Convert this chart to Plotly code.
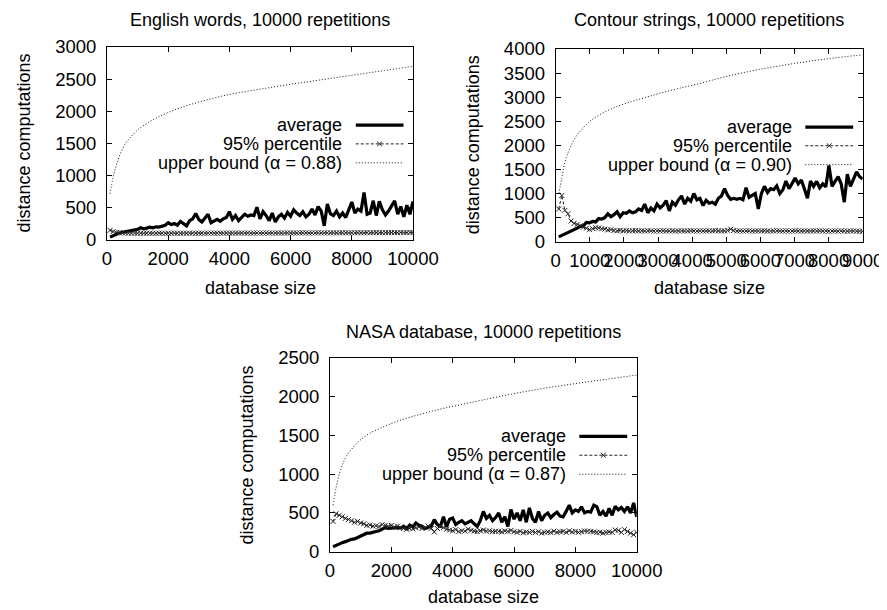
import plotly.graph_objects as go

FONT = "Liberation Sans, Arial, Helvetica, sans-serif"
FS = 18
TFS = 18.5

# ---------------- data ----------------
titles = ["English words, 10000 repetitions",
          "Contour strings, 10000 repetitions",
          "NASA database, 10000 repetitions"]
legend_names = ["average", "95% percentile"]
alpha_labels = ["upper bound (\u03b1 = 0.88)",
                "upper bound (\u03b1 = 0.90)",
                "upper bound (\u03b1 = 0.87)"]

eng_x = list(range(100, 10001, 100))
eng_avg = [45, 70, 95, 110, 120, 130, 145, 150, 160, 165,
           190, 175, 185, 200, 190, 205, 200, 215, 230, 270,
           240, 255, 230, 290, 260, 220, 300, 330, 410, 320,
           280, 340, 400, 270, 300, 320, 290, 330, 350, 440,
           320, 380, 300, 350, 400, 370, 390, 380, 510, 330,
           440, 380, 300, 420, 280, 360, 400, 340, 430, 370,
           470, 420, 380, 440, 360, 400, 480, 390, 520, 450,
           220, 560, 410, 380, 450, 360, 420, 350, 480, 590,
           420, 480, 450, 740, 400, 420, 610, 380, 600, 470,
           390, 450, 530, 610, 400, 520, 360, 540, 400, 600]
eng_pct = [150, 130, 118, 112, 110, 108, 106, 105, 106, 104,
           105, 104, 106, 105, 104, 105, 106, 105, 104, 106,
           105, 107, 105, 104, 106, 105, 107, 106, 105, 106,
           107, 105, 106, 108, 106, 105, 107, 106, 108, 107,
           106, 108, 107, 109, 107, 108, 106, 108, 109, 107,
           108, 110, 108, 109, 107, 110, 109, 108, 110, 109,
           111, 109, 110, 112, 110, 109, 111, 110, 112, 111,
           110, 112, 111, 113, 111, 112, 114, 112, 111, 113,
           112, 114, 113, 112, 115, 113, 114, 116, 114, 113,
           115, 114, 116, 115, 114, 117, 115, 116, 118, 117]
eng_ub_x = [100, 200, 370, 590, 810, 1030, 1350, 1680, 2120, 2670,
            3210, 3760, 4300, 5070, 6000, 7000, 8000, 9000, 10000]
eng_ub = [716, 974, 1258, 1490, 1618, 1722, 1825, 1912, 2005, 2098,
          2170, 2237, 2289, 2350, 2420, 2490, 2560, 2630, 2700]

con_x = list(range(90, 9001, 90))
con_avg = [100, 130, 160, 180, 210, 250, 280, 320, 330, 400,
           390, 420, 410, 480, 470, 500, 580, 520, 560, 620,
           520, 600, 590, 640, 600, 620, 680, 650, 780, 600,
           700, 640, 780, 700, 760, 850, 640, 820, 760, 870,
           950, 780, 900, 840, 1000, 870, 900, 750, 860, 800,
           820, 780, 900, 950, 1100, 960, 880, 900, 880, 900,
           870, 1120, 920, 960, 1000, 680, 1000, 1150, 1020, 1100,
           1080, 1160, 1000, 1080, 1260, 1100, 1200, 1320, 1200, 1280,
           1100, 900, 1260, 1150, 1250, 1120, 1200, 1140, 1580, 1150,
           1250, 1350, 1200, 820, 1400, 1150, 1300, 1450, 1350, 1300]
con_pct = [680, 960, 650, 580, 430, 380, 360, 330, 300, 280,
           250, 270, 290, 285, 270, 260, 245, 250, 232, 228,
           235, 225, 230, 222, 228, 230, 224, 226, 222, 228,
           225, 220, 226, 223, 228, 222, 225, 227, 221, 224,
           226, 222, 225, 228, 223, 221, 226, 224, 222, 227,
           224, 230, 226, 222, 225, 235, 260, 232, 222, 225,
           220, 224, 226, 222, 221, 225, 223, 226, 222, 220,
           224, 226, 221, 223, 225, 220, 222, 226, 223, 221,
           224, 222, 220, 225, 222, 226, 221, 223, 218, 222,
           224, 220, 226, 222, 218, 224, 222, 220, 218, 215]
con_ub_x = [90, 180, 270, 400, 600, 800, 1000, 1300, 1700, 2100,
            2600, 3100, 3600, 4200, 5000, 6000, 7000, 8000, 9000]
con_ub = [1000, 1330, 1650, 1910, 2190, 2360, 2500, 2640, 2780, 2880,
          2990, 3090, 3180, 3280, 3430, 3580, 3700, 3800, 3880]

nasa_x = list(range(100, 10001, 100))
nasa_avg = [65, 85, 105, 117, 130, 150, 160, 165, 185, 200,
            215, 239, 240, 255, 260, 270, 290, 310, 300, 305,
            300, 310, 305, 330, 300, 345, 320, 370, 340, 330,
            300, 310, 330, 413, 350, 330, 450, 320, 420, 435,
            350, 380, 400, 360, 380, 400, 360, 326, 400, 520,
            430, 470, 400, 440, 500, 380, 450, 326, 544, 420,
            500, 400, 540, 380, 565, 430, 380, 520, 400, 470,
            500, 440, 480, 510, 460, 450, 520, 600, 500, 540,
            520, 580, 500, 520, 510, 600, 580, 470, 520, 460,
            560, 470, 587, 540, 570, 520, 580, 500, 630, 450]
nasa_pct = [390, 490, 470, 450, 430, 415, 400, 380, 390, 370,
            360, 340, 345, 330, 335, 325, 350, 340, 330, 340,
            320, 330, 310, 300, 290, 300, 295, 310, 320, 300,
            310, 330, 300, 255, 300, 330, 310, 290, 280, 270,
            285, 260, 270, 265, 290, 275, 265, 260, 270, 280,
            265, 270, 260, 265, 262, 255, 268, 262, 275, 258,
            250, 262, 245, 255, 250, 262, 248, 258, 240, 250,
            255, 248, 265, 250, 258, 262, 250, 270, 255, 262,
            250, 258, 268, 265, 262, 255, 248, 252, 240, 248,
            255, 250, 280, 275, 250, 285, 260, 240, 220, 250]
nasa_ub_x = [100, 200, 350, 550, 800, 1000, 1300, 1650, 2100, 2600,
             3200, 3700, 4300, 5000, 6000, 7000, 8000, 9000, 10000]
nasa_ub = [600, 830, 1060, 1245, 1365, 1445, 1530, 1595, 1670, 1735,
           1800, 1850, 1900, 1960, 2040, 2110, 2170, 2225, 2280]

x_ranges = [[0, 10000], [0, 9000], [0, 10000]]
x_dticks = [2000, 1000, 2000]
y_ranges = [[0, 3000], [0, 4000], [0, 2500]]
y_dticks = [500, 500, 500]

series = [
    (eng_x, eng_avg, eng_pct, eng_ub_x, eng_ub),
    (con_x, con_avg, con_pct, con_ub_x, con_ub),
    (nasa_x, nasa_avg, nasa_pct, nasa_ub_x, nasa_ub),
]

# ---------------- layout ----------------
# The page body has an 8px default margin, so the figure is made 8px
# smaller and screen positions are converted with that offset.
OFF = 8
W, H = 887 - OFF, 610 - OFF


def px(xs):
    return (xs - OFF) / W


def py(ys):
    return 1 - (ys - OFF) / H


boxes = [  # left, right, top, bottom in screen pixels
    (107, 413, 47, 240),
    (555.7, 862.7, 49, 241.7),
    (330, 636.7, 358, 551.7),
]
title_y = [20, 20, 331.7]
ytitle_x = [23, 473, 246.7]
xtitle_y = [288, 288, 596.7]

fig = go.Figure()
layout = dict(width=W, height=H, margin=dict(l=0, r=0, t=0, b=0, pad=0),
              paper_bgcolor="white", plot_bgcolor="white",
              showlegend=False, font=dict(family=FONT, size=FS, color="black"))
annotations = []
shapes = []

for i, (box, (sx, savg, spct, sux, sub)) in enumerate(zip(boxes, series), start=1):
    l, r, t, b = box
    xa = "x" if i == 1 else f"x{i}"
    ya = "y" if i == 1 else f"y{i}"
    xkey = "xaxis" if i == 1 else f"xaxis{i}"
    ykey = "yaxis" if i == 1 else f"yaxis{i}"

    fig.add_trace(go.Scatter(x=sx, y=savg, mode="lines", name=legend_names[0],
                             line=dict(color="black", width=3.2),
                             xaxis=xa, yaxis=ya))
    fig.add_trace(go.Scatter(x=sx, y=spct, mode="lines+markers", name=legend_names[1],
                             line=dict(color="#222222", width=1, dash="3px,2px"),
                             marker=dict(symbol="x-thin-open", size=5,
                                         line=dict(width=1, color="#222222")),
                             xaxis=xa, yaxis=ya))
    fig.add_trace(go.Scatter(x=sux, y=sub, mode="lines", name=alpha_labels[i - 1],
                             line=dict(color="#111111", width=1, dash="1px,2px",
                                       shape="spline"),
                             xaxis=xa, yaxis=ya))

    common = dict(ticks="inside", ticklen=5, tickwidth=1, tickcolor="black",
                  mirror="ticks", showline=True, linecolor="black", linewidth=1,
                  showgrid=False, zeroline=False, automargin=False,
                  tickformat="d",
                  tickfont=dict(family=FONT, size=TFS, color="black"))
    layout[xkey] = dict(domain=[px(l), px(r)], range=x_ranges[i - 1], tick0=0,
                        dtick=x_dticks[i - 1], anchor=ya, tickangle=0,
                        ticklabelstandoff=2, **common)
    layout[ykey] = dict(domain=[py(b), py(t)], range=y_ranges[i - 1], tick0=0,
                        dtick=y_dticks[i - 1], anchor=xa,
                        ticklabelstandoff=6, **common)

    cx = px((l + r) / 2)
    annotations.append(dict(text=titles[i - 1], x=cx, y=py(title_y[i - 1]),
                            xref="paper", yref="paper", showarrow=False,
                            xanchor="center", yanchor="middle",
                            font=dict(family=FONT, size=FS, color="black")))
    annotations.append(dict(text="database size", x=cx, y=py(xtitle_y[i - 1]),
                            xref="paper", yref="paper", showarrow=False,
                            xanchor="center", yanchor="middle",
                            font=dict(family=FONT, size=FS, color="black")))
    annotations.append(dict(text="distance computations", x=px(ytitle_x[i - 1]),
                            y=py((t + b) / 2), textangle=-90,
                            xref="paper", yref="paper", showarrow=False,
                            xanchor="center", yanchor="middle",
                            font=dict(family=FONT, size=FS, color="black")))

    # gnuplot-style key: right-aligned text followed by line samples
    xd = f"{xa} domain"
    yd = f"{ya} domain"
    rows = [0.595, 0.498, 0.400]
    labels = [legend_names[0], legend_names[1], alpha_labels[i - 1]]
    for ry, lab in zip(rows, labels):
        annotations.append(dict(text=lab, x=0.776, y=ry, xref=xd, yref=yd,
                                showarrow=False, xanchor="right", yanchor="middle",
                                font=dict(family=FONT, size=FS, color="black")))
    s0, s1 = 0.813, 0.969
    shapes.append(dict(type="line", xref=xd, yref=yd, x0=s0, x1=s1, y0=rows[0], y1=rows[0],
                       line=dict(color="black", width=3.2)))
    shapes.append(dict(type="line", xref=xd, yref=yd, x0=s0, x1=s1, y0=rows[1], y1=rows[1],
                       line=dict(color="#222222", width=1, dash="3px,2px")))
    mx = (s0 + s1) / 2
    for dy in (0.012, -0.012):
        shapes.append(dict(type="line", xref=xd, yref=yd, x0=mx - 0.008, x1=mx + 0.008,
                           y0=rows[1] - dy, y1=rows[1] + dy,
                           line=dict(color="#222222", width=1)))
    shapes.append(dict(type="line", xref=xd, yref=yd, x0=s0, x1=s1, y0=rows[2], y1=rows[2],
                       line=dict(color="#111111", width=1, dash="1px,2px")))

layout["annotations"] = annotations
layout["shapes"] = shapes
fig.update_layout(**layout)
fig.write_html("out.html")
